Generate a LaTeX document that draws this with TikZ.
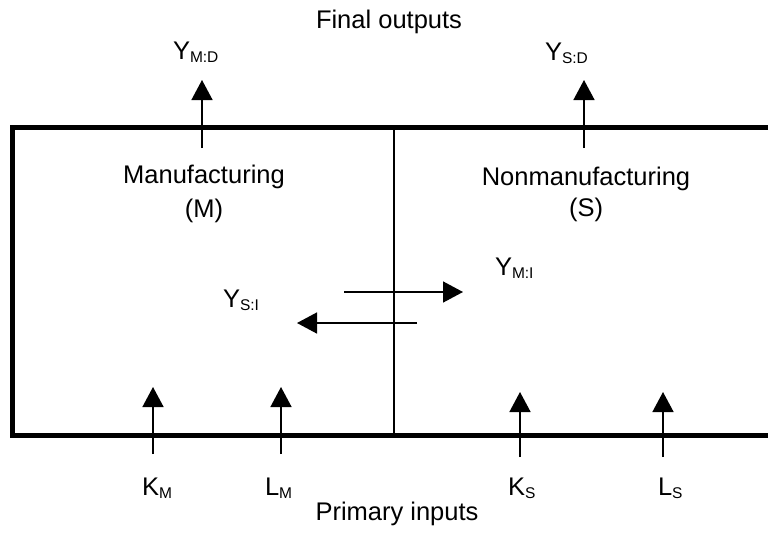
\documentclass[tikz,border=0pt]{standalone}
\usepackage{fontspec}
\setmainfont{Liberation Sans}
\usetikzlibrary{arrows.meta}
\newcommand\lsub[1]{\raisebox{-3pt}{\fontsize{15.5}{18}\selectfont #1}}
\tikzset{
  lbl/.style={inner sep=0pt, outer sep=0pt, font=\fontsize{25.5}{30}\selectfont},
  flow/.style={line width=1.5pt, -{Triangle[length=20pt,width=21pt]}},
  frame/.style={line width=5pt, line join=miter},
  divider/.style={line width=2.5pt}
}
\begin{document}
\begin{tikzpicture}[x=1pt,y=-1pt]
\useasboundingbox (0,0) rectangle (768,533);
% frame
\coordinate (tr) at (780,127);
\coordinate (tl) at (12,127);
\coordinate (bl) at (12,435);
\coordinate (br) at (780,435);
\draw[frame] (tr) -- (tl) -- (bl) -- (br);
\coordinate (dt) at (394,127);
\coordinate (db) at (394,435);
\draw[divider] (dt) -- (db);
% texts
\node[lbl, anchor=base] (fo) at (389,28) {Final outputs};
\node[lbl, anchor=base west] (ymd) at (173,59) {Y\lsub{M:D}};
\node[lbl, anchor=base west] (ysd) at (545,60) {Y\lsub{S:D}};
\node[lbl, anchor=base] (mfg) at (204,183) {Manufacturing};
\node[lbl, anchor=base] (mfgl) at (204,217) {(M)};
\node[lbl, anchor=base] (nmf) at (586,185) {Nonmanufacturing};
\node[lbl, anchor=base] (nmfl) at (586,216) {(S)};
\node[lbl, anchor=base west] (ymi) at (495,275) {Y\lsub{M:I}};
\node[lbl, anchor=base west] (ysi) at (223,307) {Y\lsub{S:I}};
\node[lbl, anchor=base west] (km) at (142,495) {K\lsub{M}};
\node[lbl, anchor=base west] (lm) at (265,495) {L\lsub{M}};
\node[lbl, anchor=base west] (ks) at (508,495) {K\lsub{S}};
\node[lbl, anchor=base west] (ls) at (658,495) {L\lsub{S}};
\node[lbl, anchor=base] (pi) at (397,520) {Primary inputs};
% arrow coordinates
\coordinate (ymdA) at (202,148); \coordinate (ymdB) at (202,80);
\coordinate (ysdA) at (584,148); \coordinate (ysdB) at (584,80);
\coordinate (kmA) at (153,454); \coordinate (kmB) at (153,387);
\coordinate (lmA) at (281,454); \coordinate (lmB) at (281,387);
\coordinate (ksA) at (520,457); \coordinate (ksB) at (520,392);
\coordinate (lsA) at (663,457); \coordinate (lsB) at (663,392);
\coordinate (rA) at (344,292); \coordinate (rB) at (463,292);
\coordinate (lA) at (417,323); \coordinate (lB) at (297,323);
\draw[flow] (ymdA) -- (ymdB);
\draw[flow] (ysdA) -- (ysdB);
\draw[flow] (kmA) -- (kmB);
\draw[flow] (lmA) -- (lmB);
\draw[flow] (ksA) -- (ksB);
\draw[flow] (lsA) -- (lsB);
\draw[flow] (rA) -- (rB);
\draw[flow] (lA) -- (lB);
\end{tikzpicture}
\end{document}
